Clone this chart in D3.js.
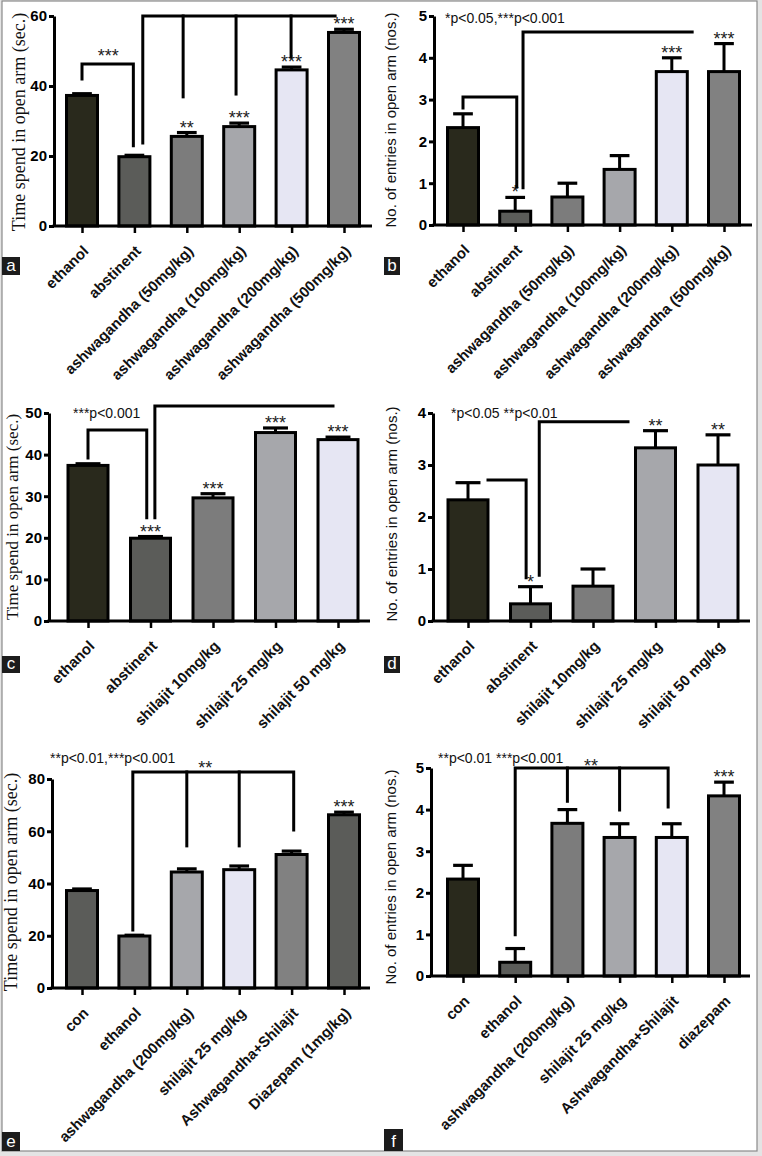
<!DOCTYPE html>
<html><head><meta charset="utf-8">
<script src="https://cdn.jsdelivr.net/npm/d3@7"></script>
<style>body{margin:0;background:#fff}svg{display:block}</style>
</head><body>
<script>
// ---------------- DATA ----------------
// Panel a
const aCategories = ["ethanol","abstinent","ashwagandha (50mg/kg)","ashwagandha (100mg/kg)","ashwagandha (200mg/kg)","ashwagandha (500mg/kg)"];
const aMeans = [37.3, 19.8, 25.6, 28.4, 44.6, 55.3];
const aSem   = [0.5, 0.4, 1.1, 1.0, 0.8, 0.9];
const aStars = ["", "", "**", "***", "***", "***"];
const aTicks = [0, 20, 40, 60];
// Panel b
const bCategories = aCategories;
const bMeans = [2.33, 0.33, 0.67, 1.33, 3.67, 3.67];
const bSem   = [0.33, 0.33, 0.33, 0.33, 0.33, 0.67];
const bStars = ["", "*", "", "", "***", "***"];
const bTicks = [0, 1, 2, 3, 4, 5];
// Panel c
const cCategories = ["ethanol","abstinent","shilajit 10mg/kg","shilajit 25 mg/kg","shilajit 50 mg/kg"];
const cMeans = [37.4, 19.9, 29.6, 45.3, 43.6];
const cSem   = [0.4, 0.4, 1.0, 1.1, 0.6];
const cStars = ["", "***", "***", "***", "***"];
const cTicks = [0, 10, 20, 30, 40, 50];
// Panel d
const dCategories = cCategories;
const dMeans = [2.33, 0.33, 0.67, 3.33, 3.0];
const dSem   = [0.33, 0.33, 0.33, 0.33, 0.58];
const dStars = ["", "*", "", "**", "**"];
const dTicks = [0, 1, 2, 3, 4];
// Panel e
const eCategories = ["con","ethanol","ashwagandha (200mg/kg)","shilajit 25 mg/kg","Ashwagandha+Shilajit","Diazepam (1mg/kg)"];
const eMeans = [37.3, 19.9, 44.4, 45.3, 51.1, 66.3];
const eSem   = [0.6, 0.3, 1.2, 1.4, 1.3, 1.0];
const eStars = ["", "", "", "", "", "***"];
const eTicks = [0, 20, 40, 60, 80];
// Panel f
const fCategories = ["con","ethanol","ashwagandha (200mg/kg)","shilajit 25 mg/kg","Ashwagandha+Shilajit","diazepam"];
const fMeans = [2.33, 0.33, 3.67, 3.33, 3.33, 4.33];
const fSem   = [0.33, 0.33, 0.33, 0.33, 0.33, 0.33];
const fStars = ["", "", "", "", "", "***"];
const fTicks = [0, 1, 2, 3, 4, 5];

// significance brackets: [category index, value] polylines; labels [text, index, value]
const aBrackets = [
  [[0,42],[0,46.3],[0.98,46.3],[0.98,22.9]],
  [[1.16,23.7],[1.16,60],[4.83,60]],
  [[1.93,60],[1.93,36.9]],
  [[2.94,60],[2.94,37.7]],
  [[3.99,60],[3.99,48.3]]
];
const aBracketLabels = [["***", 0.5, 46.8]];
const bBrackets = [
  [[0,2.8],[0,3.06],[1.03,3.06],[1.03,0.91]],
  [[1.15,0.89],[1.15,4.62],[4.39,4.62]]
];
const bBracketLabels = [];
const cBrackets = [
  [[0,39.2],[0,45.9],[0.94,45.9],[0.94,24.8]],
  [[1.07,24.8],[1.07,51.7],[3.92,51.7]]
];
const cBracketLabels = [];
const dBrackets = [
  [[0.32,2.71],[0.93,2.71],[0.93,0.83]],
  [[1.14,0.88],[1.14,3.83],[2.56,3.83]]
];
const dBracketLabels = [];
const eBrackets = [
  [[0.97,22.2],[0.97,82.7],[4.04,82.7],[4.04,60.5]],
  [[2.0,82.7],[2.0,54.4]],
  [[3.0,82.7],[3.0,54.4]]
];
const eBracketLabels = [["**", 2.35, 81.9]];
const fBrackets = [
  [[1.0,0.99],[1.0,5.0],[3.93,5.0],[3.93,4.06]],
  [[2.0,5.0],[2.0,4.2]],
  [[3.0,5.0],[3.0,3.99]]
];
const fBracketLabels = [["**", 2.45, 4.9]];

const aNote = "", bNote = "*p<0.05,***p<0.001", cNote = "***p<0.001", dNote = "*p<0.05 **p<0.01",
      eNote = "**p<0.01,***p<0.001", fNote = "**p<0.01 ***p<0.001";

// colours
const OLIVE = "#29291c", DGRAY = "#5b5c59", MGRAY = "#7c7c7c", LGRAY = "#a6a7ab", LAV = "#e6e6f3", MGRAY2 = "#818181";
const aColors = [OLIVE, DGRAY, MGRAY, LGRAY, LAV, MGRAY2];
const bColors = [OLIVE, DGRAY, MGRAY, LGRAY, LAV, MGRAY2];
const cColors = [OLIVE, DGRAY, MGRAY, LGRAY, LAV];
const dColors = [OLIVE, DGRAY, MGRAY, LGRAY, LAV];
const eColors = [DGRAY, MGRAY, LGRAY, LAV, MGRAY2, DGRAY];
const fColors = [OLIVE, DGRAY, MGRAY, LGRAY, LAV, MGRAY2];

const titleTime = "Time spend in open arm (sec.)";
const titleNo = "No. of entries in open arm (nos.)";

// ---------------- LAYOUT ----------------
const W = 762, H = 1156;
const svg = d3.select("body").append("svg").attr("width", W).attr("height", H);
svg.append("rect").attr("width", W).attr("height", H).attr("fill", "#e4e4e4");
svg.append("rect").attr("x", 2).attr("y", 1).attr("width", 755).attr("height", 1150)
  .attr("fill", "#fff").attr("stroke", "#8a8a8a").attr("stroke-width", 1.2);

const SANS = "'Liberation Sans', Arial, Helvetica, sans-serif";
const SERIF = "'Liberation Serif', 'Times New Roman', serif";

function panel(L, cats, means, sem, colors, stars, ticks, yMax, brackets, blabels, note, letter) {
  const g = svg.append("g");
  const y = d3.scaleLinear().domain([0, yMax]).range([L.y0, L.yTop]);
  const xi = d3.scaleLinear().domain([0, cats.length - 1]).range([L.c0, L.c1]);
  const xp = d3.scalePoint().domain(cats).range([L.c0, L.c1]);
  const bw = L.barW;

  // bars
  g.selectAll("rect.bar").data(means).join("rect").attr("class", "bar")
    .attr("x", (d, i) => xi(i) - bw / 2 + 1.5).attr("width", bw - 3)
    .attr("y", d => y(d)).attr("height", d => L.y0 - y(d))
    .attr("fill", (d, i) => colors[i]).attr("stroke", "#000").attr("stroke-width", 3);

  // error bars
  const cw = bw * 0.58;
  g.selectAll("line.err").data(means).join("line").attr("class", "err")
    .attr("x1", (d, i) => xi(i)).attr("x2", (d, i) => xi(i))
    .attr("y1", d => y(d)).attr("y2", (d, i) => y(d + sem[i]))
    .attr("stroke", "#000").attr("stroke-width", 3);
  g.selectAll("line.cap").data(means).join("line").attr("class", "cap")
    .attr("x1", (d, i) => xi(i) - cw / 2).attr("x2", (d, i) => xi(i) + cw / 2)
    .attr("y1", (d, i) => y(d + sem[i])).attr("y2", (d, i) => y(d + sem[i]))
    .attr("stroke", "#000").attr("stroke-width", 3.2);

  // stars
  g.selectAll("text.star").data(means).join("text").attr("class", "star")
    .attr("x", (d, i) => xi(i)).attr("y", (d, i) => y(d + sem[i]) + 1)
    .attr("text-anchor", "middle").attr("font-family", SANS).attr("font-size", 18)
    .attr("fill", "#222").text((d, i) => stars[i]);

  // y axis
  const ya = g.append("g").attr("transform", `translate(${L.ax},0)`)
    .call(d3.axisLeft(y).tickValues(ticks).tickSize(5).tickSizeOuter(0).tickPadding(2).tickFormat(d3.format("d")));
  ya.select(".domain").attr("stroke-width", 3);
  ya.selectAll(".tick line").attr("stroke-width", 3);
  ya.selectAll(".tick text").attr("font-family", SANS).attr("font-weight", "bold").attr("font-size", 15).attr("fill", "#000");

  // x axis
  g.append("line").attr("x1", L.ax - 1.5).attr("x2", L.axEnd).attr("y1", L.y0).attr("y2", L.y0)
    .attr("stroke", "#000").attr("stroke-width", 3);
  const xa = g.append("g").attr("transform", `translate(0,${L.y0})`)
    .call(d3.axisBottom(xp).tickSize(7).tickSizeOuter(0));
  xa.select(".domain").remove();
  xa.selectAll(".tick line").attr("stroke-width", 2.5);
  xa.selectAll(".tick text")
    .attr("font-family", SANS).attr("font-weight", "bold").attr("font-size", L.xFont).attr("fill", "#111")
    .attr("text-anchor", "end").attr("x", 0).attr("y", 0).attr("dy", 0)
    .attr("transform", `translate(${L.lx},${L.ly}) rotate(-45)`);

  // y title
  g.append("text").attr("transform", `translate(${L.tx},${L.ty}) rotate(-90)`)
    .attr("text-anchor", "middle").attr("font-family", L.serif ? SERIF : SANS)
    .attr("font-size", L.tFont).attr("fill", "#111").text(L.title);

  // brackets
  const line = d3.line().x(p => xi(p[0])).y(p => y(p[1]));
  g.selectAll("path.br").data(brackets).join("path").attr("class", "br")
    .attr("d", line).attr("fill", "none").attr("stroke", "#000").attr("stroke-width", 3)
    .attr("stroke-linejoin", "miter").attr("stroke-linecap", "square");
  g.selectAll("text.bl").data(blabels).join("text").attr("class", "bl")
    .attr("x", d => xi(d[1])).attr("y", d => y(d[2])).attr("text-anchor", "middle")
    .attr("font-family", SANS).attr("font-size", 18).attr("fill", "#222").text(d => d[0]);

  // note
  if (note) g.append("text").attr("x", L.nx).attr("y", L.ny).attr("font-family", SANS)
    .attr("font-size", 14).attr("fill", "#111").text(note);

  // panel letter
  g.append("rect").attr("x", L.px).attr("y", L.py).attr("width", L.pw).attr("height", L.ph).attr("fill", "#1c1c1c");
  g.append("text").attr("x", L.px + L.pw / 2).attr("y", L.py + L.ph - 4).attr("text-anchor", "middle")
    .attr("font-family", SANS).attr("font-size", 17).attr("fill", "#fff").text(letter);
}

panel({ax: 54, axEnd: 372, y0: 226, yTop: 16, c0: 82, c1: 344, barW: 34, xFont: 15, lx: 7, ly: 26,
       title: titleTime, serif: true, tFont: 18, tx: 25, ty: 122, px: 2, py: 257, pw: 18, ph: 18},
      aCategories, aMeans, aSem, aColors, aStars, aTicks, 60, aBrackets, aBracketLabels, aNote, "a");
panel({ax: 434, axEnd: 752, y0: 225, yTop: 16, c0: 463, c1: 724, barW: 34, xFont: 15, lx: 7, ly: 26,
       title: titleNo, serif: false, tFont: 15, tx: 396, ty: 120, nx: 445, ny: 23, px: 384, py: 257, pw: 16, ph: 18},
      bCategories, bMeans, bSem, bColors, bStars, bTicks, 5, bBrackets, bBracketLabels, bNote, "b");
panel({ax: 49, axEnd: 370, y0: 621, yTop: 413, c0: 88, c1: 338, barW: 43, xFont: 15, lx: 7, ly: 26,
       title: titleTime, serif: true, tFont: 17, tx: 18, ty: 517, nx: 73, ny: 418, px: 2, py: 656, pw: 18, ph: 17},
      cCategories, cMeans, cSem, cColors, cStars, cTicks, 50, cBrackets, cBracketLabels, cNote, "c");
panel({ax: 433, axEnd: 750, y0: 621, yTop: 413, c0: 468, c1: 718, barW: 43, xFont: 15, lx: 7, ly: 26,
       title: titleNo, serif: false, tFont: 15, tx: 397, ty: 514, nx: 451, ny: 418, px: 384, py: 656, pw: 16, ph: 17},
      dCategories, dMeans, dSem, dColors, dStars, dTicks, 4, dBrackets, dBracketLabels, dNote, "d");
panel({ax: 52, axEnd: 370, y0: 988, yTop: 779, c0: 82, c1: 344, barW: 34, xFont: 15, lx: 7, ly: 26,
       title: titleTime, serif: true, tFont: 18, tx: 17, ty: 882, nx: 50, ny: 763, px: 2, py: 1132, pw: 18, ph: 19},
      eCategories, eMeans, eSem, eColors, eStars, eTicks, 80, eBrackets, eBracketLabels, eNote, "e");
panel({ax: 431, axEnd: 750, y0: 976, yTop: 768, c0: 463, c1: 724, barW: 34, xFont: 15, lx: 7, ly: 26,
       title: titleNo, serif: false, tFont: 15, tx: 396, ty: 877, nx: 438, ny: 763, px: 384, py: 1129, pw: 19, ph: 22},
      fCategories, fMeans, fSem, fColors, fStars, fTicks, 5, fBrackets, fBracketLabels, fNote, "f");
</script>
</body></html>
